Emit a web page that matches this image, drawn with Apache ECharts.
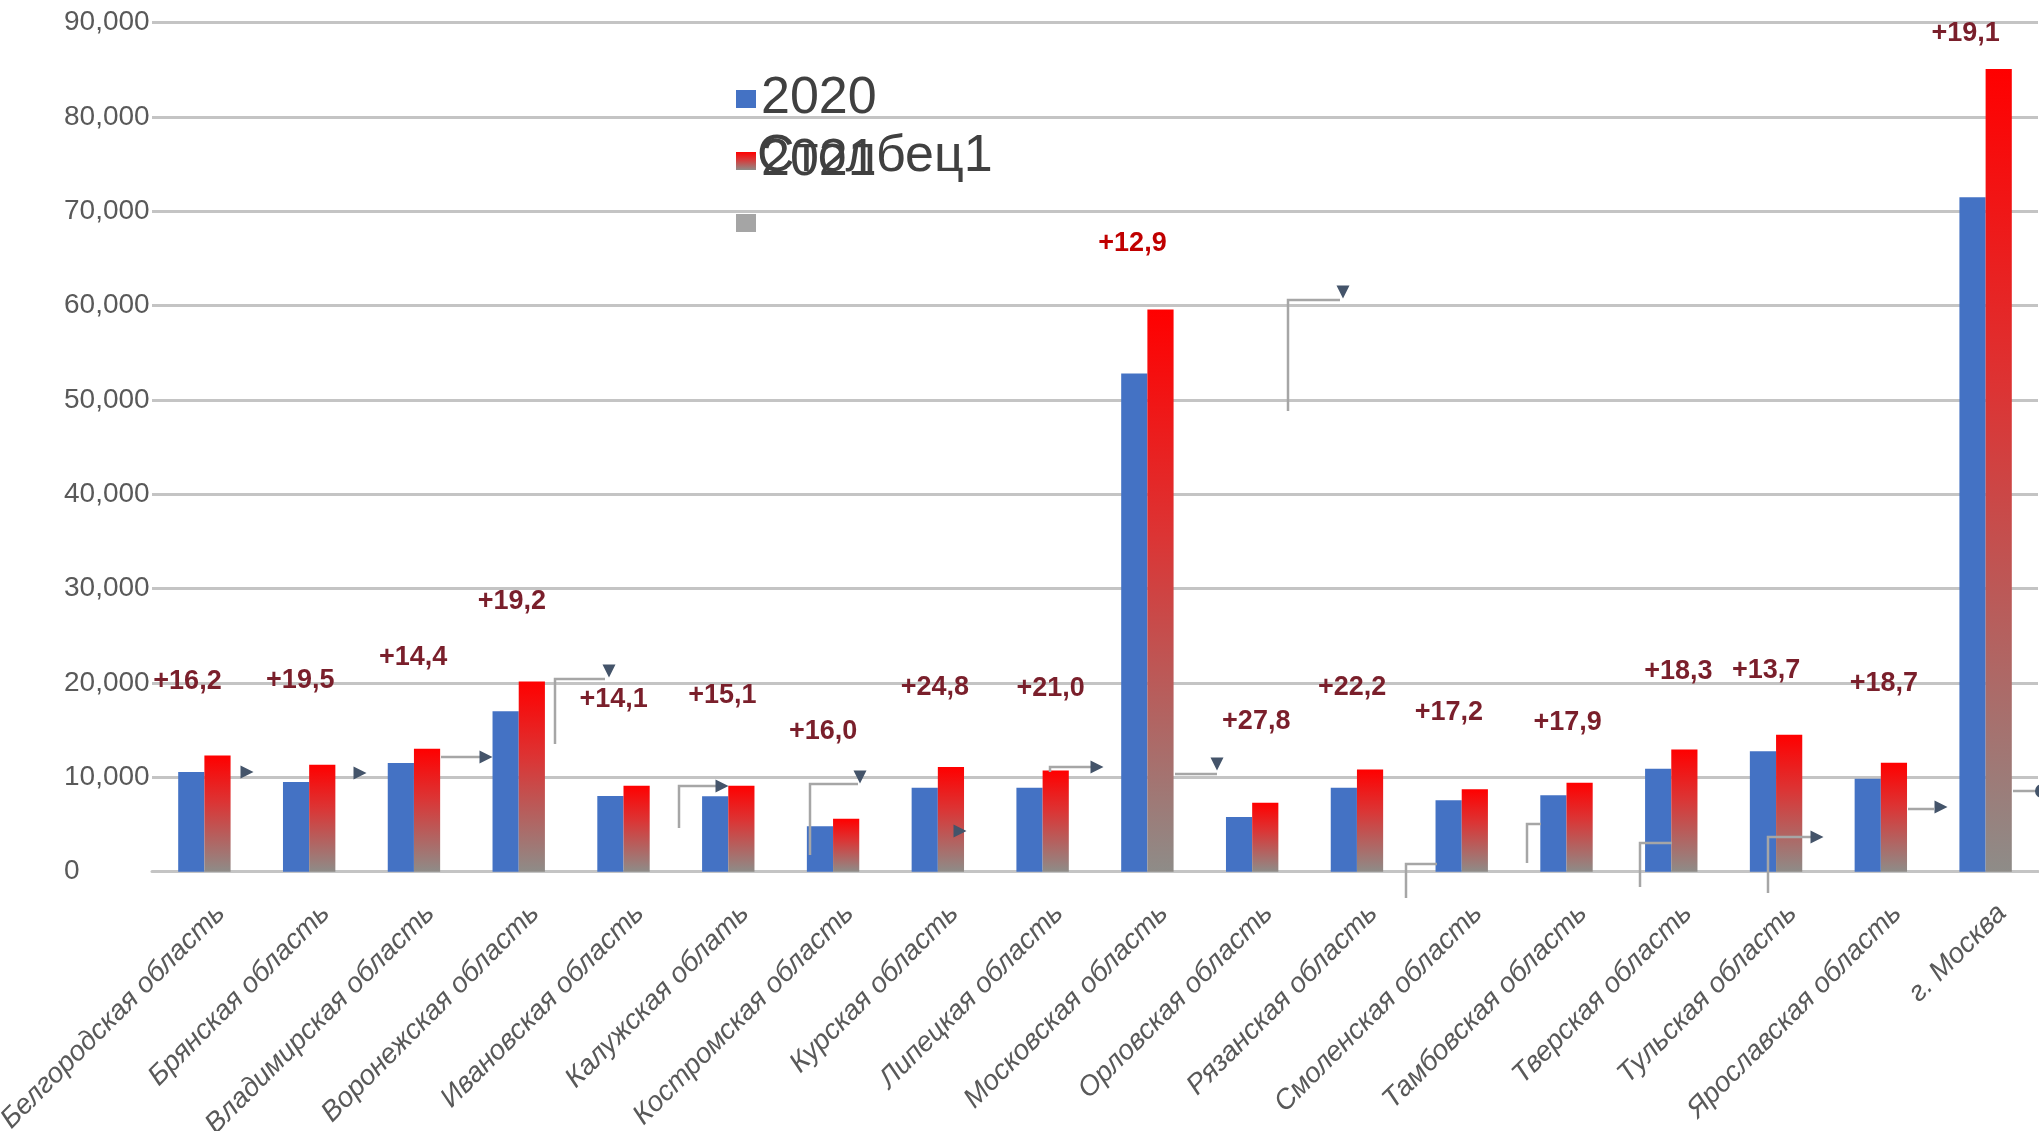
<!DOCTYPE html>
<html>
<head>
<meta charset="utf-8">
<script src="https://cdn.jsdelivr.net/npm/echarts@6/dist/echarts.min.js"></script>
<style>
  html, body { margin: 0; padding: 0; background: #fff; }
  #chart { width: 2039px; height: 1131px; }
</style>
</head>
<body>
<div id="chart"></div>
<script>
// ---- данные ----
var regions = [
  "Белгородская область", "Брянская область", "Владимирская область",
  "Воронежская область", "Ивановская область", "Калужская облать",
  "Костромская область", "Курская область", "Липецкая область",
  "Московская область", "Орловская область", "Рязанская область",
  "Смоленская область", "Тамбовская область", "Тверская область",
  "Тульская область", "Ярославская область", "г. Москва"
];
var values2020 = [10560, 9500, 11510, 17000, 8030, 8000, 4830, 8910, 8910,
  52800, 5800, 8910, 7570, 8100, 10920, 12780, 9860, 71500];
var values2021 = [12320, 11340, 13030, 20170, 9120, 9120, 5600, 11090, 10740,
  59600, 7300, 10840, 8730, 9440, 12960, 14510, 11550, 85100];
var growth = [16.2, 19.5, 14.4, 19.2, 14.1, 15.1, 16.0, 24.8, 21.0,
  12.9, 27.8, 22.2, 17.2, 17.9, 18.3, 13.7, 18.7, 19.1];
var seriesNames = ["2020", "2021", "Столбец1"];

// ---- оформление ----
var FONT = "Liberation Sans";
// сдвиг подписей прироста относительно верха красного столбца (px)
var growthLabelShift = [
  [-30, -62], [-22, -72], [-14, -79], [-20, -68], [-23, -74], [-19, -78],
  [-23, -75], [-16, -68], [-5, -70], [-28, -54], [-9, -69], [-18, -70],
  [-26, -65], [-12, -48], [-6, -66], [-23, -52], [-10, -67], [-33, -23]
];
var highlightIndex = 9;

// остатки выносок из исходной картинки
var connectorLines = [
  [[441, 757], [482, 757]],
  [[555, 744], [555, 679], [605, 679]],
  [[679, 828], [679, 786], [718, 786]],
  [[810, 855], [810, 784], [858, 784]],
  [[1050, 772], [1050, 767], [1092, 767]],
  [[1175, 774], [1217, 774]],
  [[1288, 411], [1288, 300], [1340, 300]],
  [[1406, 898], [1406, 864], [1437, 864]],
  [[1527, 863], [1527, 824], [1541, 824]],
  [[1640, 887], [1640, 843], [1672, 843]],
  [[1768, 893], [1768, 837], [1811, 837]],
  [[1908, 809], [1934, 809]],
  [[2013, 791], [2039, 791]]
];
var arrowHeads = [
  [247, 772, "r"], [360, 773, "r"], [486, 757, "r"], [609, 671, "d"],
  [722, 786, "r"], [860, 777, "d"], [960, 831, "r"], [1097, 767, "r"],
  [1217, 764, "d"], [1343, 292, "d"], [1817, 837, "r"], [1941, 807, "r"]
];

function triangle(cx, cy, dir, s) {
  var h = s / 2;
  if (dir === "d") return [[cx - h, cy - h], [cx + h, cy - h], [cx, cy + h]];
  return [[cx - h, cy - h], [cx + h, cy], [cx - h, cy + h]];
}

function fmtGrowth(v) {
  return "+" + v.toFixed(1).replace(".", ",");
}

var graphics = [];
connectorLines.forEach(function (pts) {
  graphics.push({
    type: "polyline", z: 10, silent: true,
    shape: { points: pts },
    style: { stroke: "#a6a6a6", lineWidth: 2.5, fill: null }
  });
});
arrowHeads.forEach(function (a) {
  graphics.push({
    type: "polygon", z: 11, silent: true,
    shape: { points: triangle(a[0], a[1], a[2], 13) },
    style: { fill: "#44546a" }
  });
});
graphics.push({
  type: "circle", z: 11, silent: true,
  shape: { cx: 2042, cy: 791, r: 7 },
  style: { fill: "#44546a" }
});
// наложенная подпись легенды, как на исходном рисунке
graphics.push({
  type: "text", z: 20, silent: true,
  style: {
    x: 757, y: 157, text: "Столбец1", fill: "#404040",
    font: "52px " + FONT, verticalAlign: "middle", align: "left"
  }
});

var redGradient = new echarts.graphic.LinearGradient(0, 0, 0, 1, [
  { offset: 0, color: "#ff0000" },
  { offset: 0.4, color: "#dc3434" },
  { offset: 1, color: "#8e8c88" }
]);

var data2021 = values2021.map(function (v, i) {
  return {
    value: v,
    label: {
      offset: growthLabelShift[i],
      color: i === highlightIndex ? "#c00000" : "#7a1f2b"
    }
  };
});

var chart = echarts.init(document.getElementById("chart"), null, { renderer: "canvas" });

var option = {
  backgroundColor: "#ffffff",
  animation: false,
  grid: { left: 152, right: 1, top: 22.7, bottom: 259.3, outerBoundsMode: "none" },
  legend: {
    orient: "vertical",
    left: 731,
    top: 68,
    itemWidth: 20,
    itemHeight: 18,
    itemGap: 10,
    selectedMode: false,
    textStyle: { fontSize: 52, lineHeight: 52, color: "#404040", fontFamily: FONT },
    data: [
      { name: seriesNames[0], icon: "rect" },
      { name: seriesNames[1], icon: "rect" },
      { name: seriesNames[2], icon: "rect" }
    ],
    formatter: function (name) {
      return name === seriesNames[2] ? " " : name;
    }
  },
  xAxis: {
    type: "category",
    data: regions,
    axisLine: { show: true, lineStyle: { color: "#c4c4c4", width: 3 } },
    axisTick: { show: false },
    axisLabel: {
      interval: 0,
      rotate: 45,
      margin: 21,
      verticalAlign: "top",
      lineHeight: 46,
      fontSize: 28,
      fontStyle: "italic",
      color: "#595959",
      fontFamily: FONT
    }
  },
  yAxis: {
    type: "value",
    min: 0,
    max: 90000,
    interval: 10000,
    axisLine: { show: false },
    axisTick: { show: false },
    splitLine: { lineStyle: { color: "#c4c4c4", width: 3 } },
    axisLabel: {
      align: "left",
      margin: 88,
      fontSize: 28,
      color: "#595959",
      fontFamily: FONT,
      formatter: function (v) {
        return v === 0 ? "0" : echarts.format.addCommas(v);
      }
    }
  },
  series: [
    {
      name: seriesNames[0],
      type: "bar",
      data: values2020,
      barGap: "0%",
      barCategoryGap: "50%",
      itemStyle: { color: "#4472c4" }
    },
    {
      name: seriesNames[1],
      type: "bar",
      data: data2021,
      barGap: "0%",
      barCategoryGap: "50%",
      itemStyle: { color: redGradient },
      label: {
        show: true,
        position: "top",
        distance: 0,
        fontSize: 27,
        lineHeight: 24,
        fontWeight: "bold",
        fontFamily: FONT,
        formatter: function (p) { return fmtGrowth(growth[p.dataIndex]); }
      }
    },
    {
      name: seriesNames[2],
      type: "line",
      data: [],
      itemStyle: { color: "#a5a5a5" },
      lineStyle: { color: "#a5a5a5" }
    }
  ],
  graphic: graphics
};

chart.setOption(option);
</script>
</body>
</html>
